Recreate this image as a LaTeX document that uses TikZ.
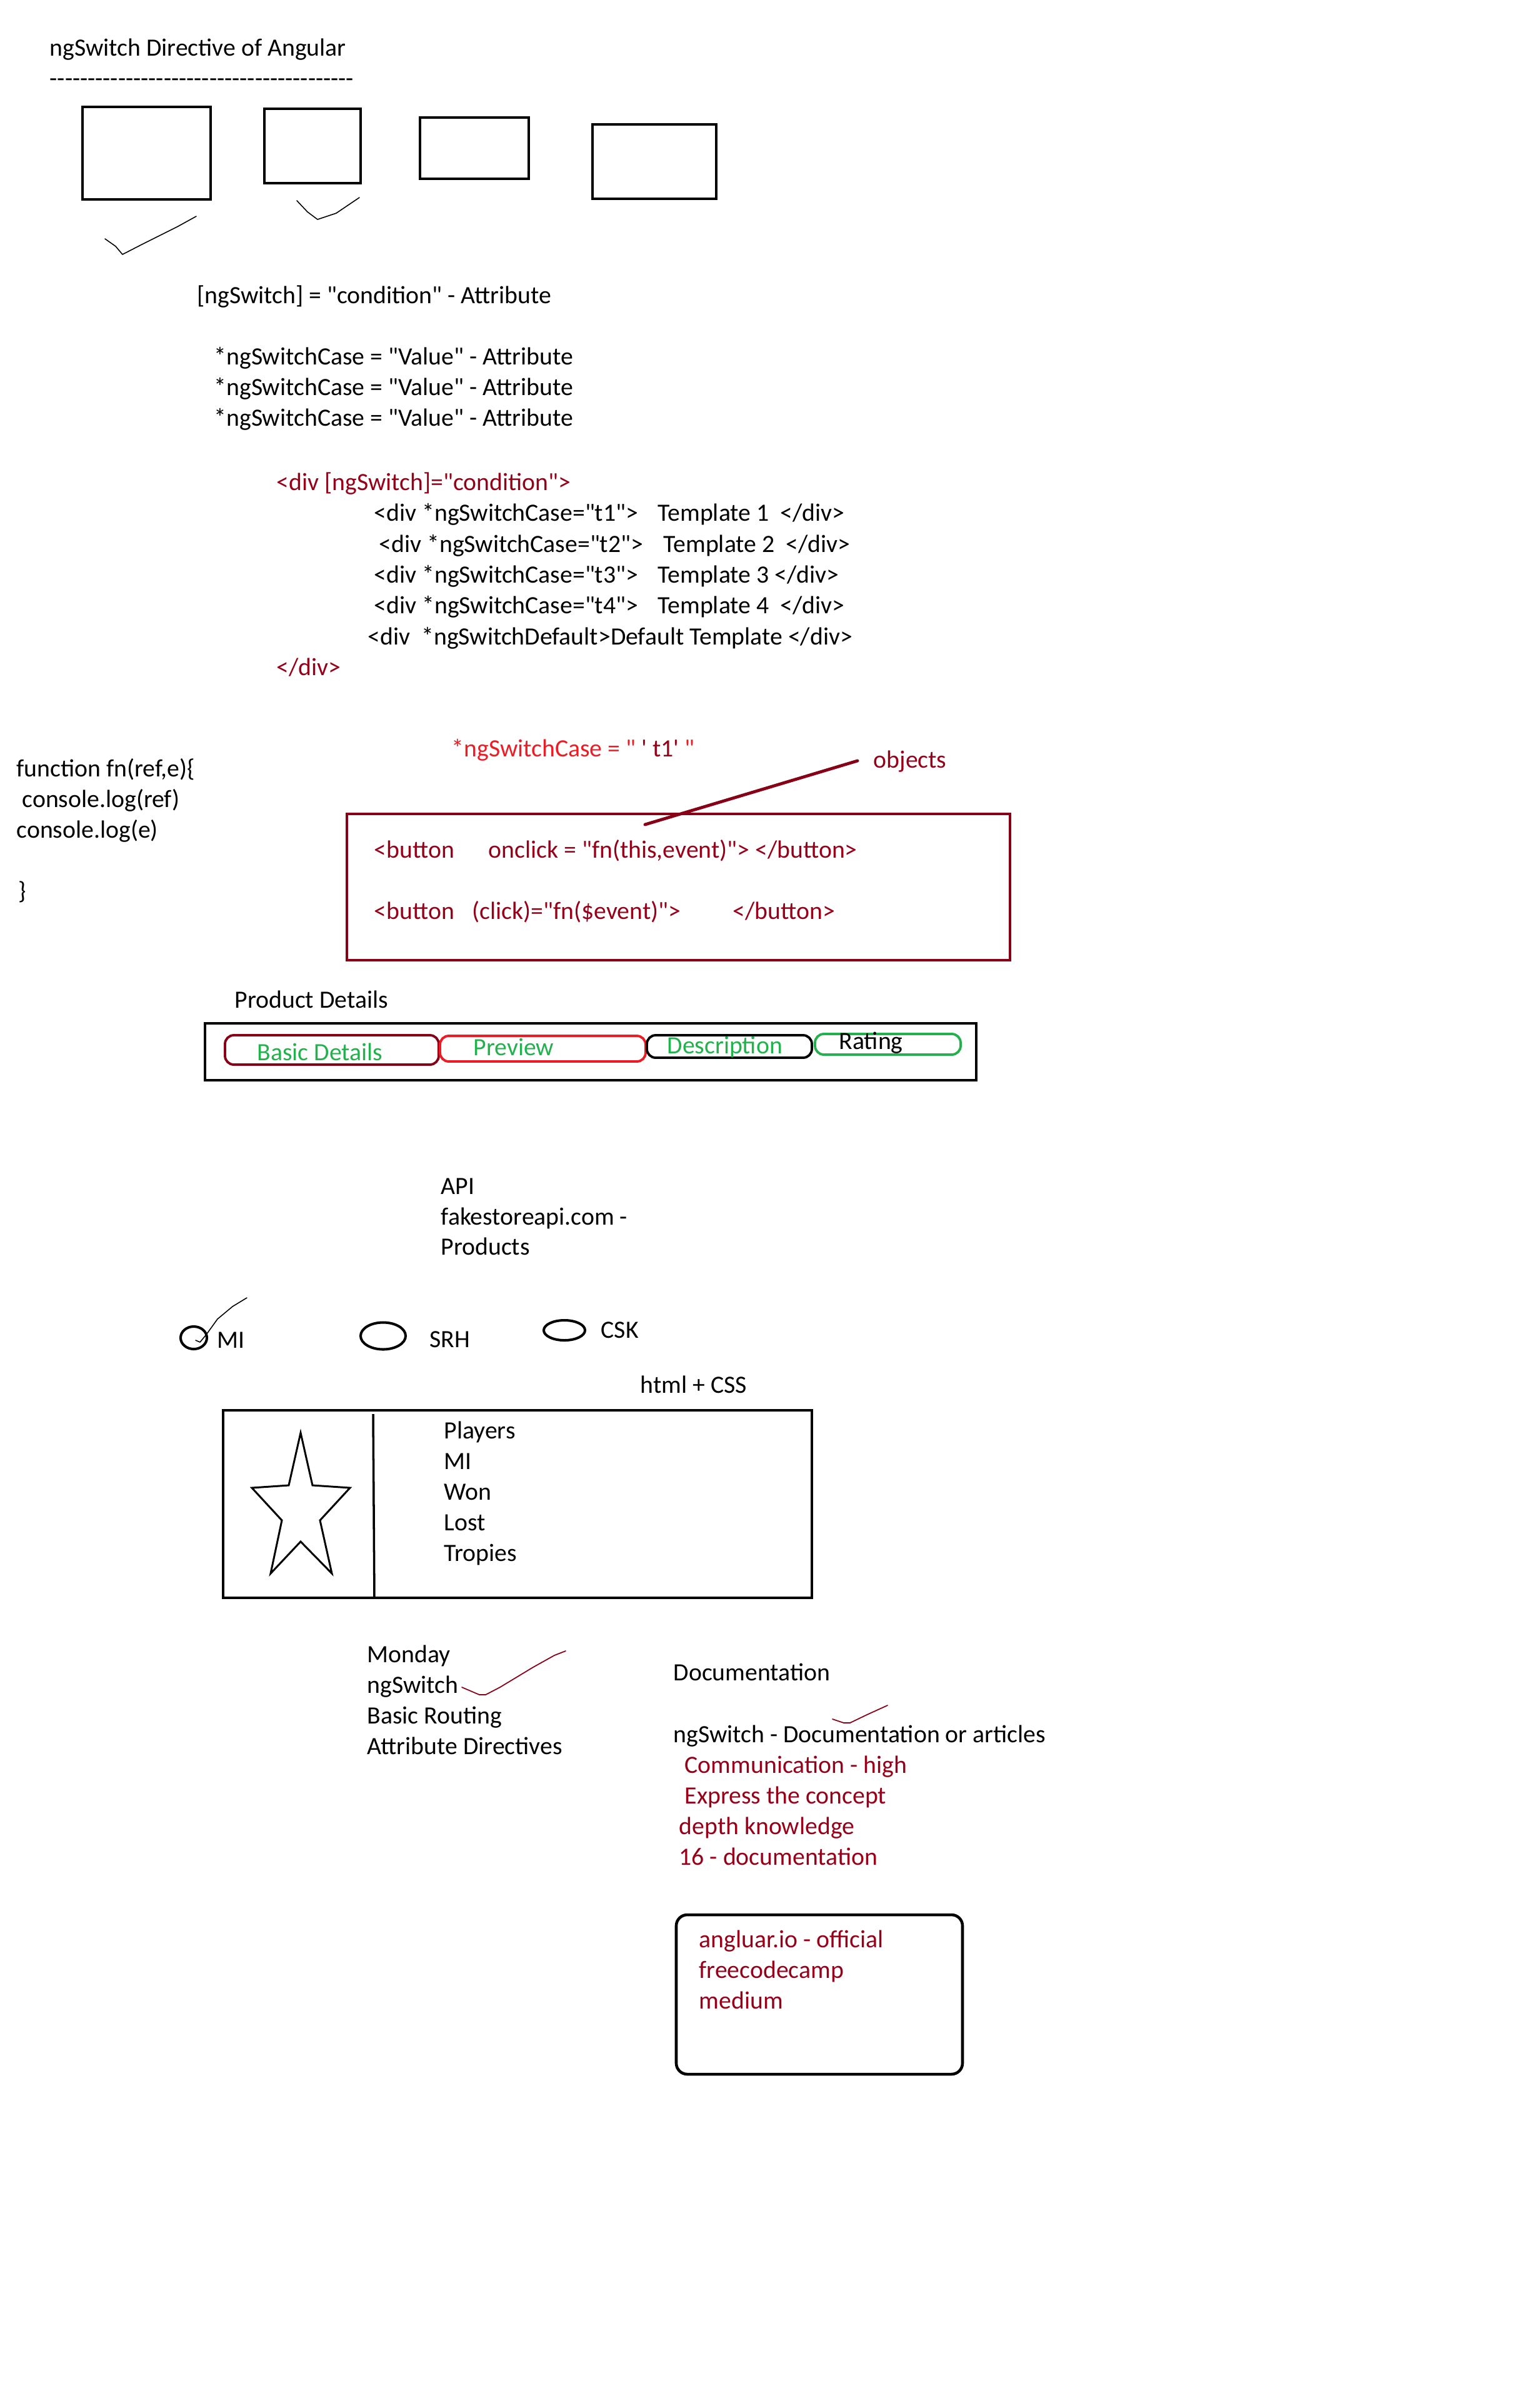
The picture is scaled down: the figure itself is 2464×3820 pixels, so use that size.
\documentclass[tikz,border=0pt]{standalone}
\usepackage{fontspec}
\newfontfamily\cf{Carlito}
\definecolor{pdarkred}{RGB}{136,0,21}
\definecolor{tdarkred}{RGB}{150,0,25}
\definecolor{pred}{RGB}{237,28,36}
\definecolor{pgreen}{RGB}{34,177,76}
\begin{document}
\begin{tikzpicture}[x=0.01cm,y=-0.01cm,
  txt/.style={font=\cf\fontsize{11.3}{13.9}\selectfont, inner sep=0pt, anchor=base west},
  rtxt/.style={txt, text=tdarkred},
  gtxt/.style={txt, text=pgreen},
  box/.style={draw=black, line width=1.2pt},
  tick/.style={draw=black, line width=0.45pt, line join=round, line cap=round},
  rtick/.style={draw=pdarkred, line width=0.5pt, line join=round, line cap=round},
  tab/.style={line width=1.1pt, rounded corners=4pt},
  ring/.style={draw=black, line width=1.15pt}]
\useasboundingbox[fill=white] (0,0) rectangle (2464,3820);

% title
\node[txt] (title) at (79,89) {ngSwitch Directive of Angular};
\node[txt] (rule) at (79,138) {----------------------------------------};

% four boxes
\draw[box] (132,171) rectangle (337,319);
\draw[box] (423,174) rectangle (577,293);
\draw[box] (672,188) rectangle (846,286);
\draw[box] (948,199) rectangle (1146,318);
\draw[tick] (168,382) -- (185,394) -- (196,407) -- (231,389) -- (285,362) -- (314,346);
\draw[tick] (475,321) -- (492,339) -- (508,351) -- (538,341) -- (575,316);

% attributes
\node[txt] (cond) at (315,485) {[ngSwitch] = "condition" - Attribute};
\node[txt] (case1) at (342,583) {*ngSwitchCase = "Value" - Attribute};
\node[txt] (case2) at (342,632) {*ngSwitchCase = "Value" - Attribute};
\node[txt] (case3) at (342,681) {*ngSwitchCase = "Value" - Attribute};

% code
\node[rtxt] (divopen) at (442,784) {<div [ngSwitch]="condition">};
\node[txt] (l1a) at (598,833) {<div *ngSwitchCase="t1">};
\node[txt] (l1b) at (1052,833) {Template 1~~</div>};
\node[txt] (l2a) at (606,883) {<div *ngSwitchCase="t2">};
\node[txt] (l2b) at (1061,883) {Template 2~~</div>};
\node[txt] (l3a) at (598,932) {<div *ngSwitchCase="t3">};
\node[txt] (l3b) at (1052,932) {Template 3 </div>};
\node[txt] (l4a) at (598,981) {<div *ngSwitchCase="t4">};
\node[txt] (l4b) at (1052,981) {Template 4~~</div>};
\node[txt] (l5) at (588,1031) {<div~~*ngSwitchDefault>Default Template </div>};
\node[rtxt] (divclose) at (442,1080) {</div>};

% function
\node[txt] (fn1) at (26,1242) {function fn(ref,e)\{};
\node[txt] (fn2) at (35,1291) {console.log(ref)};
\node[txt] (fn3) at (26,1340) {console.log(e)};
\node[txt] (fn4) at (29,1438) {\}};

% buttons
\node[txt, text=pred] (casered) at (722,1210) {*ngSwitchCase = "\ \textcolor{tdarkred}{'\ t1'}\ "};
\node[rtxt] (objects) at (1397,1228) {objects};
\coordinate (objtip) at (1372,1217);
\coordinate (objend) at (1032,1319);
\draw[pdarkred, line width=1.4pt, line cap=round] (objtip) -- (objend);
\draw[pdarkred, line width=1.15pt] (555,1302) rectangle (1616,1536);
\node[rtxt] (b1a) at (598,1372) {<button};
\node[rtxt] (b1b) at (781,1372) {onclick = "fn(this,event)"> </button>};
\node[rtxt] (b2a) at (598,1470) {<button};
\node[rtxt] (b2b) at (755,1470) {(click)="fn(\$event)">};
\node[rtxt] (b2c) at (1172,1470) {</button>};

% product details
\node[txt] (pd) at (375,1612) {Product Details};
\draw[line width=1.3pt] (328,1637) rectangle (1562,1728);
\draw[tab, draw=pdarkred] (360,1656) rectangle (702,1703);
\draw[tab, draw=pred] (704,1657) rectangle (1033,1698);
\draw[tab, draw=black] (1035,1656) rectangle (1299,1692);
\draw[tab, draw=pgreen] (1304,1654) rectangle (1537,1687);
\node[gtxt] (tab1) at (411,1696) {Basic Details};
\node[gtxt] (tab2) at (757,1688) {Preview};
\node[gtxt] (tab3) at (1067,1685) {Description};
\node[txt] (tab4) at (1342,1678) {Rating};

% API
\node[txt] (api1) at (705,1910) {API};
\node[txt] (api2) at (705,1959) {fakestoreapi.com -};
\node[txt] (api3) at (705,2007) {Products};

% radios
\draw[ring] (310,2140) ellipse [x radius=0.21cm, y radius=0.18cm];
\draw[ring] (613,2137) ellipse [x radius=0.36cm, y radius=0.215cm];
\draw[ring] (903,2128) ellipse [x radius=0.33cm, y radius=0.16cm];
\draw[tick] (395,2076) -- (372,2090) -- (348,2110) -- (330,2135) -- (320,2147) -- (313,2144);
\node[txt] (mi) at (347,2156) {MI};
\node[txt] (srh) at (687,2155) {SRH};
\node[txt] (csk) at (961,2140) {CSK};
\node[txt] (html) at (1024,2228) {html + CSS};

% card
\draw[line width=1pt] (357,2256) rectangle (1299,2556);
\draw[line width=1pt] (597,2262) -- (599,2556);
\draw[line width=0.85pt, line join=miter] (481,2292) -- (500,2376) -- (560,2380) -- (512,2432) -- (531,2517) -- (481,2466) -- (433,2517) -- (451,2432) -- (403,2380) -- (462,2376) -- cycle;
\node[txt] (p1) at (710,2301) {Players};
\node[txt] (p2) at (710,2350) {MI};
\node[txt] (p3) at (710,2399) {Won};
\node[txt] (p4) at (710,2448) {Lost};
\node[txt] (p5) at (710,2497) {Tropies};

% Monday list
\node[txt] (m1) at (587,2659) {Monday};
\node[txt] (m2) at (587,2708) {ngSwitch};
\node[txt] (m3) at (587,2757) {Basic Routing};
\node[txt] (m4) at (587,2806) {Attribute Directives};
\draw[rtick] (739,2699) -- (767,2711) -- (777,2711) -- (800,2699) -- (853,2667) -- (887,2648) -- (905,2641);

% documentation
\node[txt] (d0) at (1077,2688) {Documentation};
\draw[rtick] (1332,2750) -- (1350,2756) -- (1360,2756) -- (1387,2743) -- (1420,2728);
\node[txt] (d1) at (1077,2787) {ngSwitch - Documentation or articles};
\node[rtxt] (d2) at (1095,2836) {Communication - high};
\node[rtxt] (d3) at (1095,2885) {Express the concept};
\node[rtxt] (d4) at (1086,2934) {depth knowledge};
\node[rtxt] (d5) at (1086,2983) {16 - documentation};
\draw[line width=1.3pt, rounded corners=5pt] (1082,3063) rectangle (1540,3318);
\node[rtxt] (s1) at (1118,3115) {angluar.io - official};
\node[rtxt] (s2) at (1118,3164) {freecodecamp};
\node[rtxt] (s3) at (1118,3213) {medium};
\end{tikzpicture}
\end{document}
